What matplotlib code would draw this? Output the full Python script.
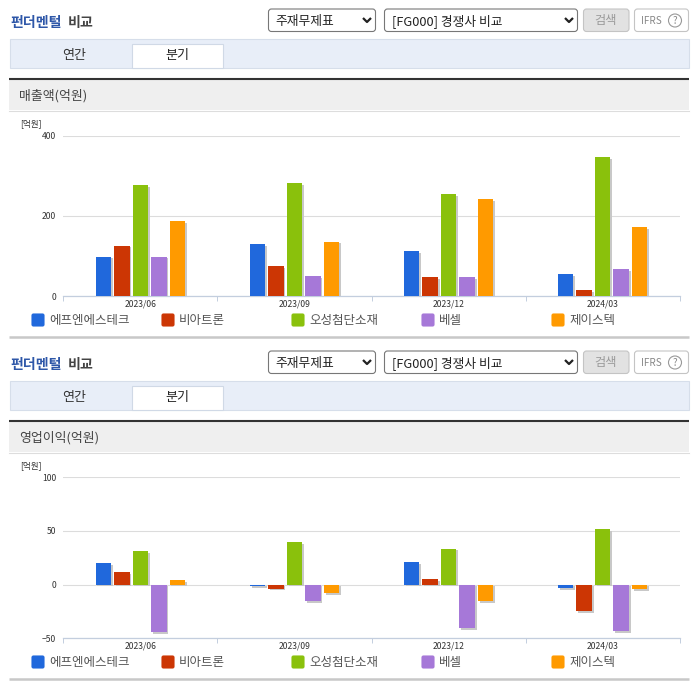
import matplotlib
matplotlib.use('Agg')
import matplotlib.pyplot as plt
import matplotlib.patheffects as pe
from matplotlib.patches import FancyBboxPatch, Rectangle, Circle

plt.rcParams['font.family'] = ['Noto Sans CJK KR', 'DejaVu Sans']

quarters = ['2023/06', '2023/09', '2023/12', '2024/03']
companies = ['에프엔에스테크', '비아트론', '오성첨단소재', '베셀', '제이스텍']
colors = ['#2068dc', '#cc3604', '#8ac10c', '#a678d8', '#ff9a00']

# 매출액
sales = [
    [99, 129, 112, 56],
    [126, 76, 48, 16],
    [277, 282, 254, 346],
    [99, 51, 47, 68],
    [187, 136, 241, 173],
]
# 영업이익
profit = [
    [20, -1, 20.7, -3.4],
    [11.4, -3.7, 5, -24.7],
    [31, 40, 33.6, 52],
    [-44.5, -15.4, -40.4, -43],
    [4, -8, -15.4, -4.3],
]

W, H = 696, 684
fig = plt.figure(figsize=(W / 100, H / 100), dpi=100)

# page furniture drawn in pixel coords
bg = fig.add_axes([0, 0, 1, 1], zorder=0)
bg.set_xlim(0, W)
bg.set_ylim(H, 0)
bg.axis('off')


def rbox(x0, y0, x1, y1, fc, ec, r=3):
    bg.add_patch(FancyBboxPatch((x0, y0), x1 - x0, y1 - y0, boxstyle=f'round,pad=0,rounding_size={r}',
                                fc=fc, ec=ec, lw=0.8))


def chevron(x, y):
    bg.plot([x - 4, x, x + 4], [y - 2, y + 2, y - 2], color='#222222', lw=1.6, solid_capstyle='butt')


def label(x, y, s, size, color, **kw):
    # noto's center sits a bit high, push down
    bg.text(x, y + 1.5, s, fontsize=size, color=color, va='center', **kw)


def panel(dy, header):
    label(10, 22 + dy, '펀더멘털', 10.1, '#2e57a8', fontweight='bold')
    label(68, 22 + dy, '비교', 10.1, '#444444', fontweight='bold')

    rbox(268.5, 9 + dy, 375.5, 31.5 + dy, 'white', '#777777')
    label(275, 20 + dy, '주재무제표', 9.2, '#222222')
    chevron(367, 20 + dy)
    rbox(384.5, 9 + dy, 577.5, 31.5 + dy, 'white', '#777777')
    label(392, 20 + dy, '[FG000] 경쟁사 비교', 9.2, '#222222')
    chevron(569, 20 + dy)
    rbox(583.5, 9 + dy, 629, 31.5 + dy, '#e2e2e2', '#c4c4c4')
    label(606, 19 + dy, '검색', 8.8, '#9a9a9a', ha='center')
    rbox(634.5, 9 + dy, 688.5, 31.5 + dy, 'white', '#c4c4c4')
    label(641, 19 + dy, 'IFRS', 7.2, '#888888')
    bg.add_patch(Circle((675, 20.5 + dy), 6.5, fc='white', ec='#999999', lw=0.8))
    bg.text(675, 20.5 + dy, '?', fontsize=7, color='#888888', ha='center', va='center')

    # tabs
    bg.add_patch(Rectangle((9.5, 38.5 + dy), 679.5, 29, fc='#e8eef8', ec='#d6deea', lw=0.8))
    bg.add_patch(Rectangle((131.5, 43.5 + dy), 91, 24, fc='white', ec='#d0d9e6', lw=0.8))
    label(74, 53.5 + dy, '연간', 9.4, '#333333', ha='center')
    label(177, 53.5 + dy, '분기', 9.4, '#222222', ha='center')

    # section header
    bg.add_patch(Rectangle((9, 80 + dy), 680, 30, fc='#efefef', ec='none'))
    bg.plot([9, 689], [79 + dy, 79 + dy], color='#333333', lw=1.5, solid_capstyle='butt')
    bg.plot([9, 689], [110.5 + dy, 110.5 + dy], color='#dddddd', lw=0.8)
    label(19, 94 + dy, header, 9.3, '#444444')
    label(20, 122 + dy, '[억원]', 6.2, '#333333')

    # legend
    for name, c, x in zip(companies, colors, [32, 162, 292, 422, 552]):
        rbox(x, 314 + dy, x + 12, 326 + dy, c, c, r=1.5)
        label(x + 17, 319 + dy, name, 9, '#555555')

    bg.plot([9, 689], [337 + dy, 337 + dy], color='#c8c8c8', lw=1.8, solid_capstyle='butt')


panel(0, '매출액(억원)')
panel(342, '영업이익(억원)')


def bar_chart(values, px_top, px_bottom, ylim, yticks):
    x0, x1 = 63.3, 679.7
    ax = fig.add_axes([x0 / W, 1 - px_bottom / H, (x1 - x0) / W, (px_bottom - px_top) / H], zorder=2)
    ax.patch.set_alpha(0)
    for i, (vals, c) in enumerate(zip(values, colors)):
        pos = [q + (i - 2) * 0.12 for q in range(len(quarters))]
        ax.bar(pos, vals, width=0.1, color=c, zorder=3,
               path_effects=[pe.SimplePatchShadow(offset=(1.3, -1.3), shadow_rgbFace='#c8c8c8', alpha=1), pe.Normal()])
    ax.set_xlim(-0.5, 3.5)
    ax.set_ylim(*ylim)
    ax.set_yticks(yticks)
    ax.set_xticks(range(len(quarters)), quarters)
    ax.set_xticks([-0.5, 0.5, 1.5, 2.5, 3.5], minor=True)
    ax.tick_params(axis='x', which='major', length=0, pad=2.5, labelsize=6.2, labelcolor='#333333')
    ax.tick_params(axis='x', which='minor', length=3.5, width=0.7, color='#c3cede')
    ax.tick_params(axis='y', length=0, pad=5, labelsize=6.2, labelcolor='#333333')
    ax.grid(axis='y', color='#dcdcdc', lw=0.8, zorder=1)
    ax.set_axisbelow(True)
    for s in ['top', 'right', 'left']:
        ax.spines[s].set_visible(False)
    ax.spines['bottom'].set_color('#c3cede')
    ax.spines['bottom'].set_linewidth(0.9)
    return ax


bar_chart(sales, 135.5, 296.3, (0, 400), [0, 200, 400])
bar_chart(profit, 477.3, 638.3, (-50, 100), [-50, 0, 50, 100])

fig.savefig('out.png', dpi=100)
